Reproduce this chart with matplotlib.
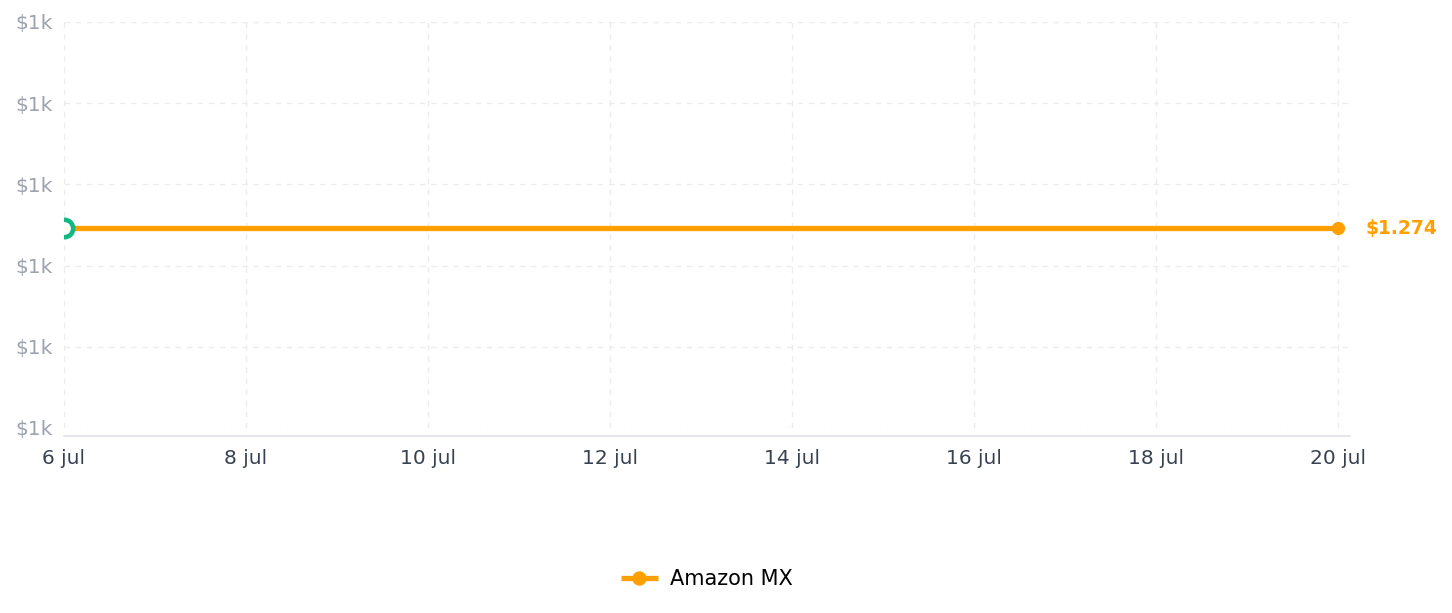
import matplotlib
matplotlib.use("Agg")
import matplotlib.pyplot as plt
import pandas as pd

# data
dates = pd.to_datetime(["2024-07-06", "2024-07-20"])
prices = [1274, 1274]
store = "Amazon MX"
price_label = "$1.274"
x_ticks = pd.date_range("2024-07-06", "2024-07-20", freq="2D")
x_tick_labels = [f"{d.day} jul" for d in x_ticks]
y_ticks = [1261.7, 1266.7, 1271.7, 1276.7, 1281.7, 1286.7]
y_tick_labels = ["$1k"] * len(y_ticks)

orange = "#ff9f00"
green = "#10b981"

fig = plt.figure(figsize=(14.52, 6.13), dpi=100)
ax = fig.add_axes([64 / 1452, 1 - 428 / 613, (1350 - 64) / 1452, (428 - 22) / 613])

ax.plot(dates, prices, color=orange, lw=3.8, marker="o", ms=8.5,
        markevery=[1], label=store, zorder=3, solid_capstyle="butt")
ax.plot(dates[:1], prices[:1], "o", ms=12.5, mfc="white", mec=green, mew=3.3,
        zorder=4, clip_on=True)

ax.annotate(price_label, (dates[-1], prices[-1]), xytext=(20, 0),
            textcoords="offset points", color=orange, fontsize=13.5,
            fontweight="bold", va="center", ha="left", annotation_clip=False)

ax.set_xlim(dates[0], dates[-1] + pd.Timedelta(hours=3.2))
ax.set_ylim(y_ticks[0], y_ticks[-1])
ax.set_xticks(x_ticks)
ax.set_xticklabels(x_tick_labels)
ax.set_yticks(y_ticks)
ax.set_yticklabels(y_tick_labels)

ax.grid(True, color="#ececec", ls=(0, (4, 4)), lw=1)
for s in ["top", "right", "left"]:
    ax.spines[s].set_visible(False)
ax.spines["bottom"].set_position(("outward", 6))
ax.spines["bottom"].set_color("#e2e2e6")
ax.spines["bottom"].set_linewidth(1.2)
ax.tick_params(axis="x", length=0, pad=9, labelsize=14.5, labelcolor="#374151")
ax.tick_params(axis="y", length=0, pad=8, labelsize=14.5, labelcolor="#9ca3af")

fig.legend(loc="center", bbox_to_anchor=(707 / 1452, 1 - 579 / 613), frameon=False,
           fontsize=15, handlelength=1.75, handletextpad=0.6, markerscale=1.1)

fig.savefig("out.png", dpi=100)
